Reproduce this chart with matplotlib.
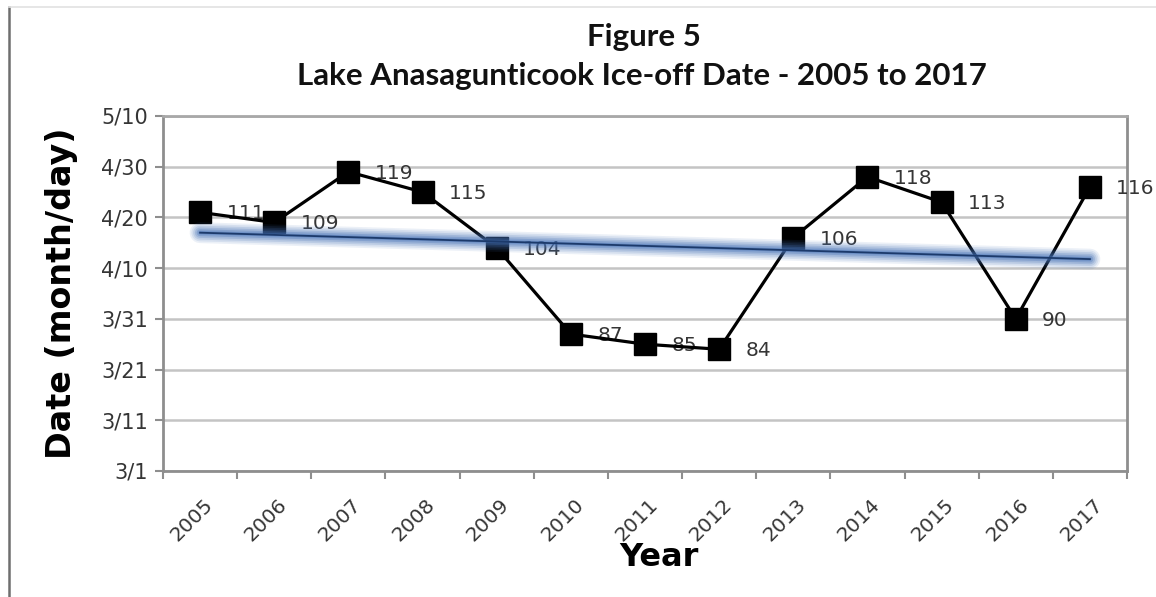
import numpy as np
import matplotlib
matplotlib.use("Agg")
import matplotlib.pyplot as plt
from matplotlib.lines import Line2D
from matplotlib.transforms import ScaledTranslation

# 1. 資料 (冰融日期，以一年中的第幾天表示)
years = ['2005', '2006', '2007', '2008', '2009', '2010', '2011',
         '2012', '2013', '2014', '2015', '2016', '2017']
ice_off_day = [111, 109, 119, 115, 104, 87, 85, 84, 106, 118, 113, 90, 116]

# y 軸刻度 (第幾天 -> 月/日)
y_ticks = [60, 70, 80, 90, 100, 110, 120, 130]
y_tick_labels = ['3/1', '3/11', '3/21', '3/31', '4/10', '4/20', '4/30', '5/10']

TEXT_GRAY = '#353535'
GRID_GRAY = '#c4c4c4'
SPINE_GRAY = '#8e8e8e'

x = np.arange(len(years))
y = np.array(ice_off_day)

# 線性趨勢線
slope, intercept = np.polyfit(x, y, 1)
trend = slope * x + intercept

fig = plt.figure(figsize=(11.56, 5.97), dpi=100)
fig.patch.set_facecolor('white')
ax = fig.add_axes([0.141, 0.2111, 0.8339, 0.5946])

# 主折線 + 方形標記
ax.plot(x, y, color='black', linewidth=2.3, marker='s', markersize=15.5,
        markerfacecolor='black', markeredgecolor='black', zorder=4)

# 數值標籤 (放在標記右側)
for xi, yi in zip(x, y):
    ax.annotate(str(yi), (xi, yi), xytext=(19, -1), textcoords='offset points',
                ha='left', va='center', fontsize=14.5, color=TEXT_GRAY,
                annotation_clip=False, zorder=3)

# 趨勢線：外圈模糊光暈 + 深藍細線
for lw, a in [(15, 0.10), (12.5, 0.13), (10, 0.17), (7.5, 0.22), (5, 0.3), (2.5, 0.4)]:
    ax.plot(x, trend, color='#4470b5', linewidth=lw, alpha=a,
            solid_capstyle='round', zorder=5)
ax.plot(x, trend, color='#1c3a6b', linewidth=1.3, zorder=6)

# 軸範圍與刻度
ax.set_xlim(-0.5, len(years) - 0.5)
ax.set_ylim(60, 130)
ax.set_yticks(y_ticks)
ax.set_yticklabels(y_tick_labels)
ax.set_xticks(x)
ax.set_xticklabels(years, rotation=45, ha='right', va='top', rotation_mode='anchor')
ax.set_xticks(np.arange(len(years) + 1) - 0.5, minor=True)

ax.tick_params(axis='x', which='major', length=0, pad=17, labelsize=14.5, labelcolor=TEXT_GRAY)
ax.tick_params(axis='x', which='minor', length=6, width=1.5, color=SPINE_GRAY, direction='out')
ax.tick_params(axis='y', which='major', length=6, width=1.5, color=SPINE_GRAY,
               pad=5, labelsize=15, labelcolor=TEXT_GRAY)

offset = ScaledTranslation(3 / 100, 0, fig.dpi_scale_trans)
for lab in ax.get_xticklabels():
    lab.set_transform(lab.get_transform() + offset)

ax.grid(axis='y', color=GRID_GRAY, linewidth=1.8, zorder=0)
ax.set_axisbelow(True)
for side in ['left', 'bottom', 'right', 'top']:
    ax.spines[side].set_color(SPINE_GRAY)
    ax.spines[side].set_linewidth(2)
ax.spines['top'].set_color('#a8a8a8')

# 軸標題
ax.set_ylabel('Date (month/day)', fontsize=24, fontweight='bold', color='black')
ax.yaxis.set_label_coords(-0.088, 0.5)
ax.set_xlabel('Year', fontsize=23, fontweight='bold', color='black')
ax.xaxis.set_label_coords(0.515, -0.2)

# 標題
fig.text(0.557, 0.938, 'Figure 5', ha='center', va='center',
         fontsize=22.5, fontweight='bold', family='Lato', color='#111111')
fig.text(0.555, 0.873, 'Lake Anasagunticook Ice-off Date - 2005 to 2017', ha='center',
         va='center', fontsize=22.5, fontweight='bold', family='Lato', color='#111111')

# 外框線
fig.add_artist(Line2D([9 / 1156, 9 / 1156], [0, 1 - 7 / 597], color='#6e6e6e',
                      linewidth=1.8, transform=fig.transFigure))
fig.add_artist(Line2D([9 / 1156, 1], [1 - 7 / 597, 1 - 7 / 597], color='#e2e2e2',
                      linewidth=1.2, transform=fig.transFigure))

fig.savefig('out.png', dpi=100, facecolor='white')
